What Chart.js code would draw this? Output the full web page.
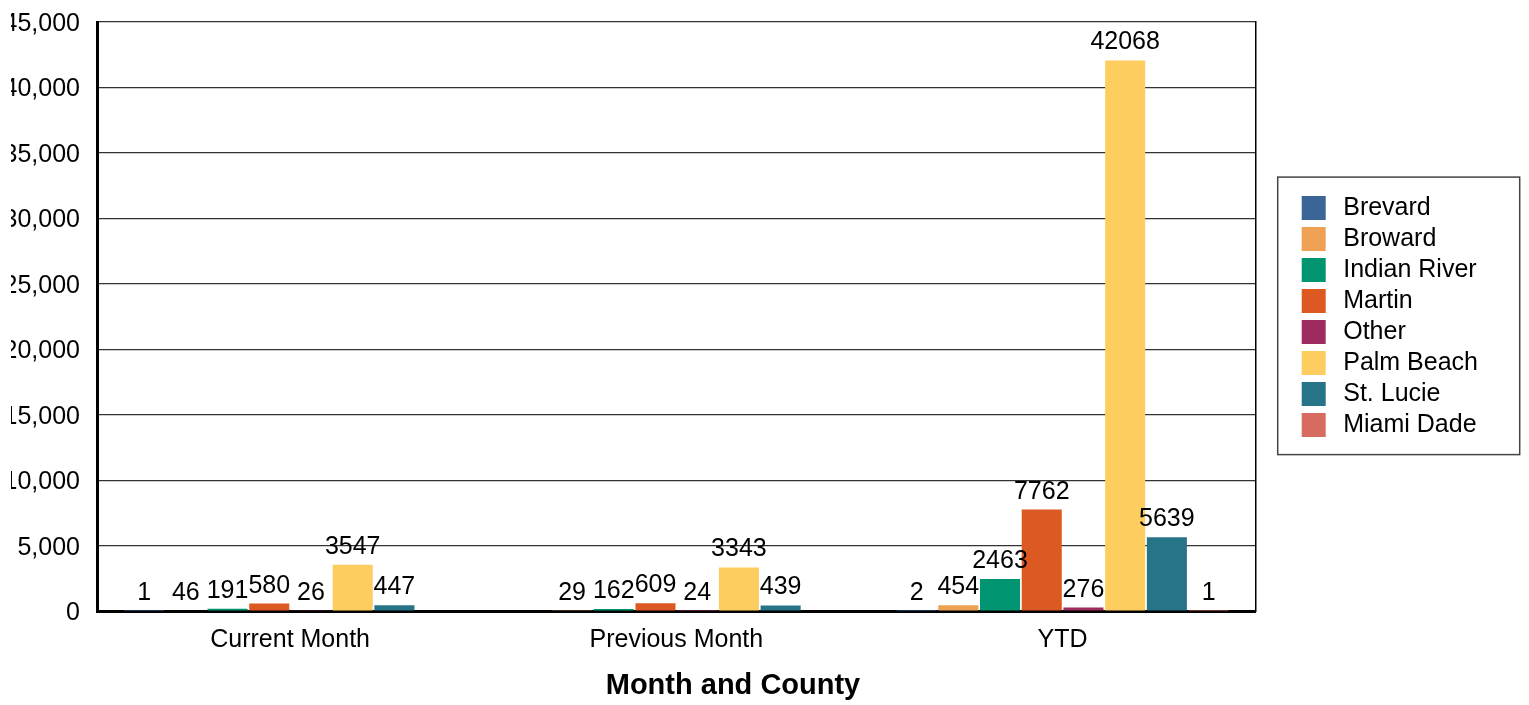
<!DOCTYPE html>
<html>
<head>
<meta charset="utf-8">
<script src="https://cdn.jsdelivr.net/npm/chart.js@4.4.1/dist/chart.umd.min.js"></script>
<style>
  body { margin: 0; background: #fff; }
  #frame { position: relative; width: 1529px; height: 705px; overflow: hidden; }
  /* the original picture cuts the y labels off a little way in */
  #framus { position: absolute; left: -22px; top: 0; clip-path: inset(0 0 0 33.5px); }
</style>
</head>
<body>
<div id="frame"><canvas id="framus" width="1551" height="705"></canvas></div>
<script>
// categories along the x axis
const months = ['Current Month', 'Previous Month', 'YTD'];

// one array per county (null = no bar)
const brevard     = [1, null, 2];
const broward     = [46, 29, 454];
const indianRiver = [191, 162, 2463];
const martin      = [580, 609, 7762];
const other       = [26, 24, 276];
const palmBeach   = [3547, 3343, 42068];
const stLucie     = [447, 439, 5639];
const miamiDade   = [null, null, 1];

const countyNames  = ['Brevard', 'Broward', 'Indian River', 'Martin', 'Other', 'Palm Beach', 'St. Lucie', 'Miami Dade'];
const countyValues = [brevard, broward, indianRiver, martin, other, palmBeach, stLucie, miamiDade];
const countyColors = ['#3b6497', '#eea152', '#009471', '#dc5a21', '#9e2b5e', '#fdcd5f', '#277488', '#d76b60'];

const yTicks = { min: 0, max: 45000, step: 5000 };

Chart.defaults.font.family = '"Liberation Sans", Arial, sans-serif';
Chart.defaults.font.size = 25;
Chart.defaults.color = '#000';

// numbers over the bars
const valueLabels = {
    id: 'valueLabels',
    afterDatasetsDraw(chart) {
        const ctx = chart.ctx;
        ctx.save();
        ctx.font = '25px "Liberation Sans", Arial, sans-serif';
        ctx.fillStyle = '#000';
        ctx.textAlign = 'center';
        ctx.textBaseline = 'alphabetic';
        chart.data.datasets.forEach((ds, i) => {
            chart.getDatasetMeta(i).data.forEach((bar, j) => {
                const v = ds.data[j];
                if (v === null || v === undefined) return;
                ctx.fillText(String(v), bar.x, bar.y - 11);
            });
        });
        ctx.restore();
    }
};

// frame round the legend
const legendFrame = {
    id: 'legendFrame',
    afterDraw(chart) {
        const hb = chart.legend.legendHitBoxes;
        if (!hb || !hb.length) return;
        const first = hb[0], last = hb[hb.length - 1];
        const x = first.left - 24;
        const y = first.top - 18.5;
        const h = (last.top + last.height + 17) - y;
        const ctx = chart.ctx;
        ctx.save();
        ctx.strokeStyle = '#444';
        ctx.lineWidth = 1.5;
        ctx.strokeRect(x, y, 242, h);
        ctx.restore();
    }
};

const ctx = document.getElementById('framus');
const myChart = new Chart(ctx, {
    type: 'bar',
    data: {
        labels: months,
        datasets: countyNames.map((name, i) => ({
            label: name,
            data: countyValues[i],
            backgroundColor: countyColors[i],
            borderWidth: 0,
            categoryPercentage: 0.864,
            barPercentage: 0.96
        }))
    },
    options: {
        responsive: false,
        animation: false,
        layout: { padding: { top: 22, right: 41, bottom: 0, left: 0 } },
        scales: {
            x: {
                grid: { display: false, drawTicks: false },
                border: { display: true, color: '#000', width: 3 },
                ticks: { padding: 14, font: { size: 25 } },
                afterFit: s => { s.height = 57; s.paddingLeft = 0; s.paddingRight = 0; }
            },
            y: {
                min: yTicks.min,
                max: yTicks.max,
                grid: { color: '#333', lineWidth: 1.3, drawTicks: false },
                border: { display: true, color: '#000', width: 3 },
                ticks: {
                    stepSize: yTicks.step,
                    padding: 17,
                    labelOffset: 2,
                    font: { size: 25 },
                    callback: v => v.toLocaleString('en-US')
                },
                afterFit: s => { s.width = 119; s.paddingTop = 0; s.paddingBottom = 0; }
            },
            y2: {
                position: 'right',
                min: yTicks.min,
                max: yTicks.max,
                grid: { display: false, drawOnChartArea: false, drawTicks: false },
                border: { display: true, color: '#000', width: 1.5 },
                ticks: { display: false },
                afterFit: s => { s.width = 40; s.paddingTop = 0; s.paddingBottom = 0; }
            }
        },
        plugins: {
            legend: {
                position: 'right',
                fullSize: false,
                labels: {
                    boxWidth: 24,
                    boxHeight: 24,
                    padding: 6,
                    color: '#000',
                    font: { size: 25 },
                    generateLabels: chart => Chart.defaults.plugins.legend.labels.generateLabels(chart)
                        .map(item => Object.assign(item, { text: '\u2009' + item.text }))
                }
            },
            title: {
                display: true,
                position: 'bottom',
                text: 'Month and County',
                color: '#000',
                font: { size: 29, weight: 'bold' },
                padding: { top: 0, bottom: 2 }
            },
            tooltip: { enabled: false }
        }
    },
    plugins: [valueLabels, legendFrame]
});
</script>
</body>
</html>
